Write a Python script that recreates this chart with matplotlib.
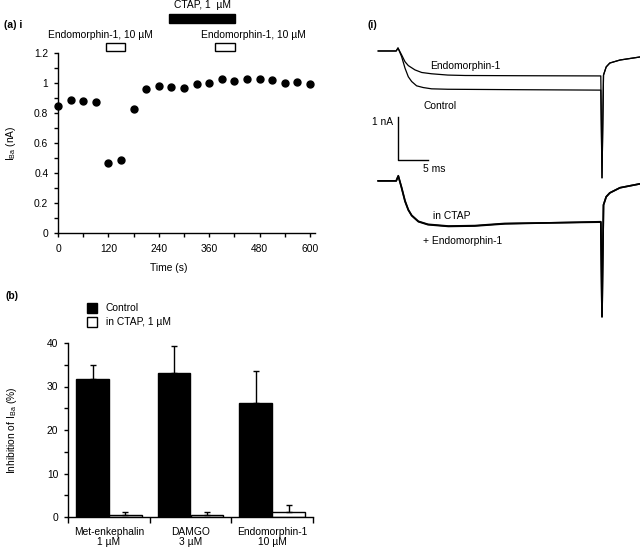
import matplotlib
matplotlib.use("Agg")
import matplotlib.pyplot as plt
from matplotlib.patches import Rectangle
from matplotlib.ticker import MultipleLocator, FixedLocator, NullFormatter, FuncFormatter

plt.rcParams['font.family'] = ['Liberation Sans', 'DejaVu Sans']
plt.rcParams['font.size'] = 7.4
plt.rcParams['axes.linewidth'] = 1.0
plt.rcParams['mathtext.fontset'] = 'custom'
plt.rcParams['mathtext.rm'] = 'Liberation Sans'

# ---- panel (a) i : time course of I_Ba
time_s = [0, 30, 60, 90, 120, 150, 180, 210, 240, 270, 300,
          330, 360, 390, 420, 450, 480, 510, 540, 570, 600]
iba_na = [0.85, 0.89, 0.88, 0.875, 0.47, 0.485, 0.825, 0.96, 0.98, 0.975, 0.97,
          0.995, 1.0, 1.025, 1.015, 1.03, 1.025, 1.02, 1.0, 1.005, 0.995]
endo_periods = [(115, 160), (375, 422)]
ctap_period = (265, 422)

# ---- panel (b) : inhibition bars
drugs = ['Met-enkephalin\n1 \u00b5M', 'DAMGO\n3 \u00b5M', 'Endomorphin-1\n10 \u00b5M']
ctrl_mean = [31.8, 33.1, 26.3]
ctrl_err = [3.2, 6.1, 7.2]
ctap_mean = [0.4, 0.5, 1.1]
ctap_err = [0.8, 0.6, 1.7]

# ---- panel (i) : current traces (ms, nA relative to baseline)
top_endo_t = [-3.3, -0.3, 0.0, 0.6, 1.17, 1.72, 2.83, 3.95, 5.6, 8.3, 11.2, 20, 33.8,
              34.0, 34.25, 34.7, 35.3, 37.0, 40.3]
top_endo_i = [0.0, 0.0, 0.07, -0.09, -0.25, -0.34, -0.44, -0.50, -0.53, -0.56, -0.57, -0.575, -0.58,
              -2.95, -0.56, -0.37, -0.28, -0.21, -0.14]
top_ctrl_t = [-3.3, -0.3, 0.0, 0.6, 1.17, 1.72, 2.28, 3.1, 4.2, 5.6, 8.3, 20, 33.8,
              34.0, 34.25, 34.7, 35.3, 37.0, 40.3]
top_ctrl_i = [0.0, 0.0, 0.07, -0.13, -0.40, -0.60, -0.71, -0.81, -0.85, -0.88, -0.89, -0.90, -0.91,
              -2.95, -0.56, -0.37, -0.28, -0.21, -0.14]
bot_ctap_t = [-3.3, -0.3, 0.05, 0.6, 1.17, 1.72, 2.28, 3.4, 5.0, 8.4, 12.8, 17.8, 33.8,
              34.0, 34.25, 34.7, 35.3, 37.0, 40.3]
bot_ctap_i = [0.0, 0.0, 0.12, -0.17, -0.48, -0.68, -0.81, -0.95, -1.02, -1.06, -1.05, -1.0, -0.95,
              -3.16, -0.56, -0.37, -0.28, -0.16, -0.07]
bot_endo_i = [0.0, 0.0, 0.11, -0.15, -0.46, -0.67, -0.80, -0.94, -1.01, -1.05, -1.04, -0.99, -0.96,
              -3.16, -0.56, -0.37, -0.28, -0.16, -0.07]
bottom_offset = -3.02

W, H = 640, 549
fig = plt.figure(figsize=(6.4, 5.49), dpi=100)


def box(l, t, r, b):
    # pixel box -> figure fraction rect
    return [l / W, 1 - b / H, (r - l) / W, (b - t) / H]


# ================= (a) i
ax = fig.add_axes(box(58, 53, 315, 233))
ax.plot(time_s, iba_na, 'o', color='black', ms=5, clip_on=False, zorder=3)
ax.set_xlim(0, 612)
ax.set_ylim(0, 1.2)
ax.spines['top'].set_visible(False)
ax.spines['right'].set_visible(False)
ax.xaxis.set_major_locator(FixedLocator([0, 120, 240, 360, 480, 600]))
ax.xaxis.set_minor_locator(MultipleLocator(60))
ax.yaxis.set_major_locator(FixedLocator([0, 0.2, 0.4, 0.6, 0.8, 1.0, 1.2]))
ax.yaxis.set_minor_locator(MultipleLocator(0.1))
ax.yaxis.set_major_formatter(FuncFormatter(lambda v, _: f'{v:g}'))
ax.tick_params(which='both', direction='out', length=3, width=1)
ax.tick_params(axis='y', pad=4)
ax.tick_params(axis='x', pad=5)
ax.set_xlabel('Time (s)')
ax.xaxis.set_label_coords(0.43, -0.165)
ax.set_ylabel('I$_{\\rm Ba}$ (nA)')
ax.yaxis.set_label_coords(-0.155, 0.5)

for s, e in endo_periods:
    ax.add_patch(Rectangle((s, 1.213), e - s, 0.054, facecolor='white',
                           edgecolor='black', lw=1, clip_on=False))
ax.add_patch(Rectangle((ctap_period[0], 1.40), ctap_period[1] - ctap_period[0], 0.06,
                       facecolor='black', edgecolor='black', clip_on=False))
ax.text(sum(ctap_period) / 2, 1.52, 'CTAP, 1  \u00b5M', ha='center', va='center')
ax.text(100, 1.32, 'Endomorphin-1, 10 \u00b5M', ha='center', va='center')
ax.text(465, 1.32, 'Endomorphin-1, 10 \u00b5M', ha='center', va='center')
fig.text(4 / W, 1 - 25 / H, '(a) i', fontweight='bold', va='center')

# ================= (b)
bx = fig.add_axes(box(68, 343, 313, 517))
xs = range(len(drugs))
bx.bar([i + 0.3 for i in xs], ctrl_mean, width=0.4, color='black', edgecolor='black', lw=1)
bx.bar([i + 0.7 for i in xs], ctap_mean, width=0.4, color='white', edgecolor='black', lw=1)
bx.errorbar([i + 0.3 for i in xs], ctrl_mean, yerr=[[0] * 3, ctrl_err], fmt='none',
            ecolor='black', elinewidth=1, capsize=2.5, capthick=1)
bx.errorbar([i + 0.7 for i in xs], ctap_mean, yerr=[[0] * 3, ctap_err], fmt='none',
            ecolor='black', elinewidth=1, capsize=2.5, capthick=1)
bx.set_xlim(0, 3)
bx.set_ylim(0, 40)
bx.spines['top'].set_visible(False)
bx.spines['right'].set_visible(False)
bx.xaxis.set_major_locator(FixedLocator([0, 1, 2, 3]))
bx.xaxis.set_major_formatter(NullFormatter())
bx.xaxis.set_minor_locator(FixedLocator([0.5, 1.5, 2.5]))
bx.set_xticklabels(drugs, minor=True, linespacing=1.0)
bx.tick_params(axis='x', which='major', direction='out', length=4, width=1)
bx.tick_params(axis='x', which='minor', length=0, pad=7)
bx.yaxis.set_major_locator(MultipleLocator(10))
bx.yaxis.set_minor_locator(MultipleLocator(5))
bx.tick_params(axis='y', which='both', direction='out', length=3, width=1, pad=4)
bx.set_ylabel('Inhibition of I$_{\\rm Ba}$ (%)')
bx.yaxis.set_label_coords(-0.2, 0.5)

bx.add_patch(Rectangle((0.0776 * 3, 1.172 * 40), 0.041 * 3, 0.058 * 40, facecolor='black',
                       edgecolor='black', lw=1, clip_on=False))
bx.add_patch(Rectangle((0.0776 * 3, 1.092 * 40), 0.041 * 3, 0.058 * 40, facecolor='white',
                       edgecolor='black', lw=1, clip_on=False))
bx.text(0.155, 1.201, 'Control', transform=bx.transAxes, va='center')
bx.text(0.155, 1.121, 'in CTAP, 1 \u00b5M', transform=bx.transAxes, va='center')
fig.text(5 / W, 1 - 296 / H, '(b)', fontweight='bold', va='center')

# ================= (i) traces
tx = fig.add_axes(box(360, 30, 640, 330))
tx.set_xlim(-6.333, 40.333)
tx.set_ylim(-6.488, 0.488)
tx.axis('off')
tx.plot(top_endo_t, top_endo_i, color='black', lw=0.9)
tx.plot(top_ctrl_t, top_ctrl_i, color='black', lw=0.9)
tx.plot(bot_ctap_t, [v + bottom_offset for v in bot_ctap_i], color='black', lw=1.2)
tx.plot(bot_ctap_t, [v + bottom_offset for v in bot_endo_i], color='black', lw=1.2)

# scale bar 1 nA / 5 ms
tx.plot([0, 0, 5], [-1.53, -2.53, -2.53], color='black', lw=1)
tx.text(-0.8, -1.65, '1 nA', ha='right', va='center')
tx.text(6.0, -2.74, '5 ms', ha='center', va='center')
tx.text(5.3, -0.35, 'Endomorphin-1', ha='left', va='center')
tx.text(4.2, -1.28, 'Control', ha='left', va='center')
tx.text(5.8, -3.84, 'in CTAP', ha='left', va='center')
tx.text(4.2, -4.42, '+ Endomorphin-1', ha='left', va='center')
fig.text(367 / W, 1 - 25 / H, '(i)', fontweight='bold', va='center')

fig.savefig('out.png', dpi=100)
